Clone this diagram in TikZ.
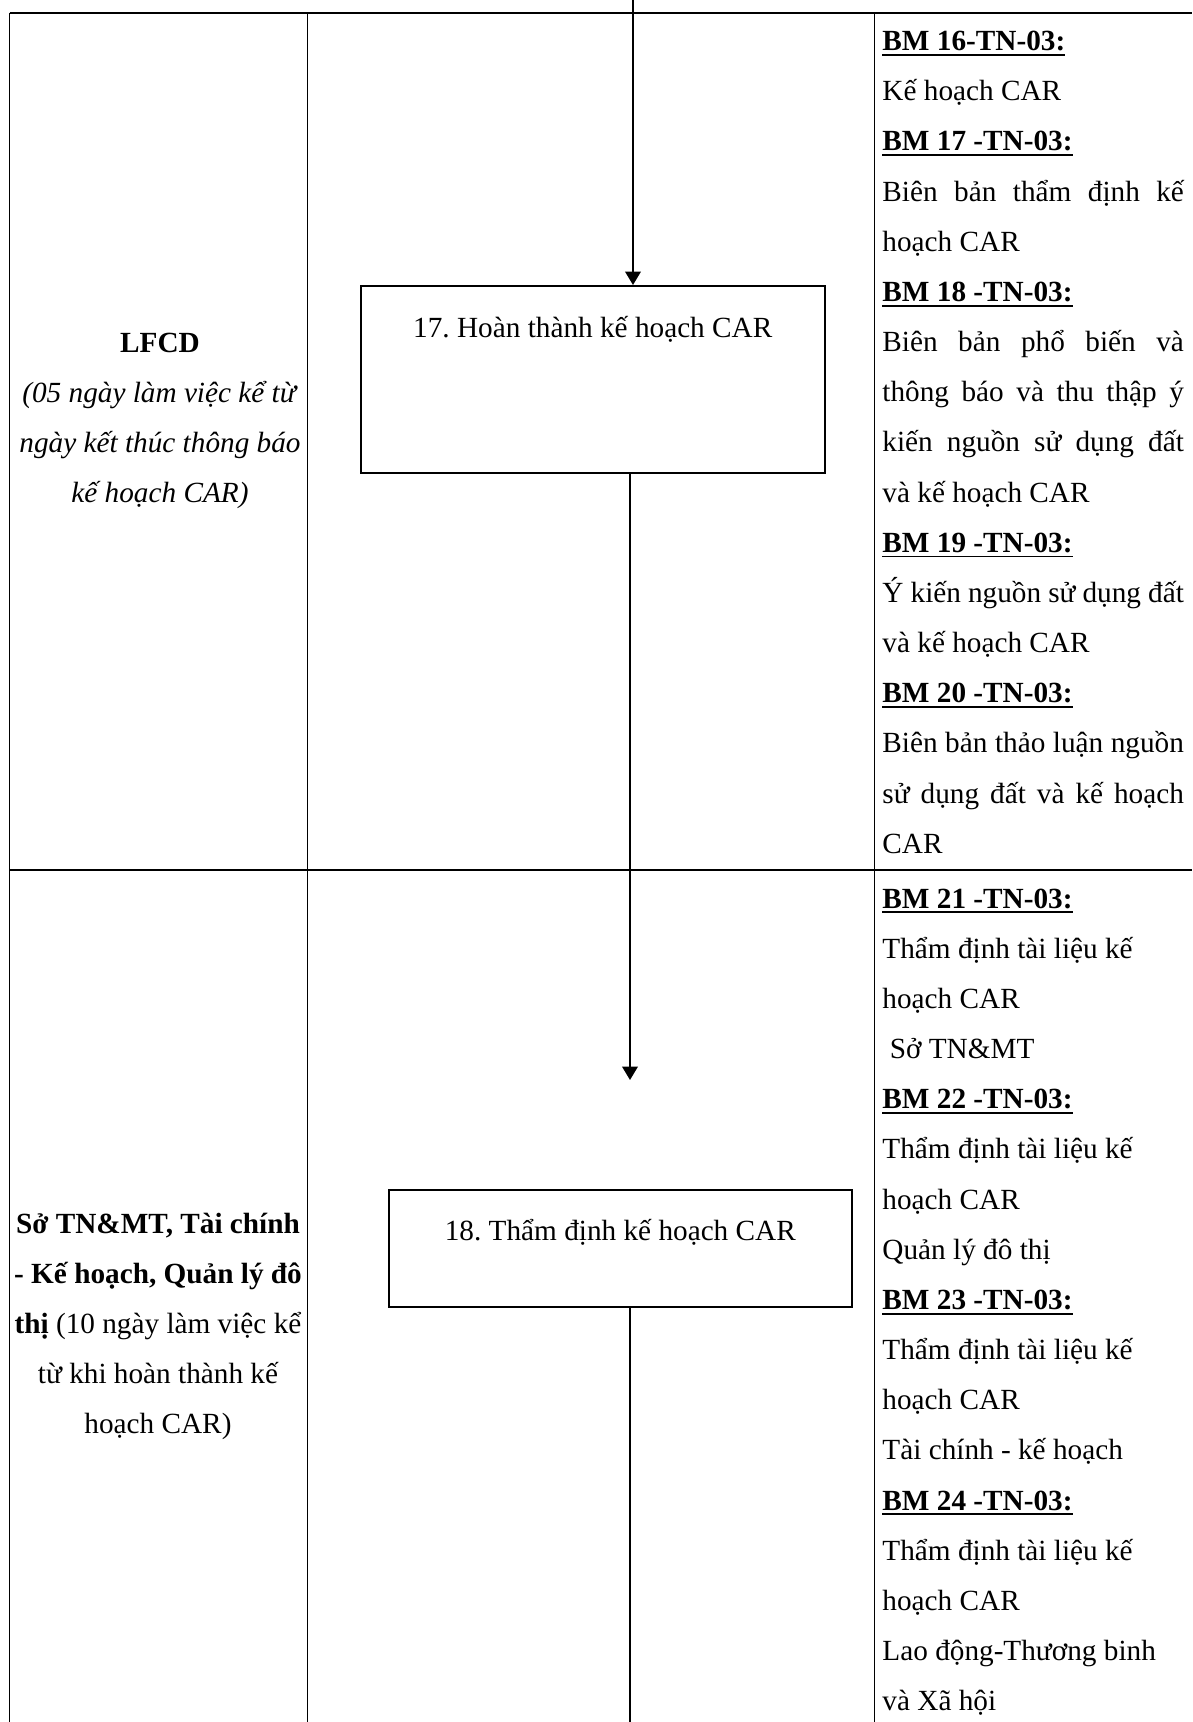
\documentclass[tikz,border=0pt]{standalone}
\usepackage{fontspec}
\setmainfont{Liberation Serif}
\usetikzlibrary{arrows.meta}
\frenchspacing
\newcommand\bmu[1]{\setbox0=\hbox{\bfseries #1}\hbox{\rlap{\copy0}\rule[-2.3pt]{\wd0}{0.85pt}}}
\newcommand\jl[1]{\hbox to\hsize{#1}}
\newcommand\rl[1]{\hbox{#1}}
\newcommand\cl[1]{\hbox to\hsize{\hss#1\hss}}
\newcommand\cellsetup{\baselineskip=22.3pt\lineskiplimit=-100pt\lineskip=0pt}
\tikzset{
  heavyline/.style={line width=0.85pt},
  thinline/.style={line width=0.65pt},
  procbox/.style={draw, line width=0.7pt, inner xsep=0pt, inner ysep=0pt, align=center},
  conn/.style={line width=0.7pt},
  arr/.style={-{Triangle[length=6pt,width=7pt]}},
  celltext/.style={inner sep=0pt}
}
\begin{document}
\begin{tikzpicture}[x=0.44444pt, y=-0.44444pt, font=\fontsize{13pt}{22.3pt}\selectfont]
\useasboundingbox (0,0) rectangle (1192,1722);

% table grid
\draw[heavyline] (9.5,13) -- (1192,13);
\draw[heavyline] (9.5,870) -- (1192,870);
\draw[thinline] (9.5,13) -- (9.5,1722);
\draw[thinline] (307.5,13) -- (307.5,1722);
\draw[heavyline] (874.5,13) -- (874.5,1722);

% left column
\node (l1) [celltext, anchor=base] at (160,352) {\vtop{\hsize=140pt\cellsetup
  \cl{\textbf{LFCD}}
  \cl{\textit{(05 ngày làm việc kể từ}}
  \cl{\textit{ngày kết thúc thông báo}}
  \cl{\textit{kế hoạch CAR)}}}};
\node (l2) [celltext, anchor=base] at (158,1233) {\vtop{\hsize=140pt\cellsetup
  \cl{\textbf{Sở TN\&MT, Tài chính}}
  \cl{\textbf{- Kế hoạch, Quản lý đô}}
  \cl{\textbf{thị} (10 ngày làm việc kể}
  \cl{từ khi hoàn thành kế}
  \cl{hoạch CAR)}}};

% process boxes
\node (b17) [procbox, minimum width=206.2pt, text height=23.1pt, text depth=60pt, anchor=north west] at (360,285) {17. Hoàn thành kế hoạch CAR};
\node (b18) [procbox, minimum width=205.8pt, text height=22.7pt, text depth=29.3pt, anchor=north west] at (388,1189) {18. Thẩm định kế hoạch CAR};

% connectors
\coordinate (topin) at (633,0);
\coordinate (midend) at (630,1080);
\coordinate (botend) at (630,1722);
\draw[conn, arr] (topin) -- (topin |- b17.north);
\draw[conn, arr] (b17.south -| midend) -- (midend);
\draw[conn] (b18.south -| botend) -- (botend);

% right column
\node (r1) [celltext, anchor=base west] at (882,50.5) {\vtop{\hsize=134pt\cellsetup
  \rl{\bmu{BM 16-TN-03:}}
  \rl{Kế hoạch CAR}
  \rl{\bmu{BM 17 -TN-03:}}
  \jl{Biên bản thẩm định kế}
  \rl{hoạch CAR}
  \rl{\bmu{BM 18 -TN-03:}}
  \jl{Biên bản phổ biến và}
  \jl{thông báo và thu thập ý}
  \jl{kiến nguồn sử dụng đất}
  \rl{và kế hoạch CAR}
  \rl{\bmu{BM 19 -TN-03:}}
  \jl{Ý kiến nguồn sử dụng đất}
  \rl{và kế hoạch CAR}
  \rl{\bmu{BM 20 -TN-03:}}
  \jl{Biên bản thảo luận nguồn}
  \jl{sử dụng đất và kế hoạch}
  \rl{CAR}}};
\node (r2) [celltext, anchor=base west] at (882,908) {\vtop{\hsize=134pt\cellsetup
  \rl{\bmu{BM 21 -TN-03:}}
  \rl{Thẩm định tài liệu kế}
  \rl{hoạch CAR}
  \rl{ Sở TN\&MT}
  \rl{\bmu{BM 22 -TN-03:}}
  \rl{Thẩm định tài liệu kế}
  \rl{hoạch CAR}
  \rl{Quản lý đô thị}
  \rl{\bmu{BM 23 -TN-03:}}
  \rl{Thẩm định tài liệu kế}
  \rl{hoạch CAR}
  \rl{Tài chính - kế hoạch}
  \rl{\bmu{BM 24 -TN-03:}}
  \rl{Thẩm định tài liệu kế}
  \rl{hoạch CAR}
  \rl{Lao động-Thương binh}
  \rl{và Xã hội}}};
\end{tikzpicture}
\end{document}
